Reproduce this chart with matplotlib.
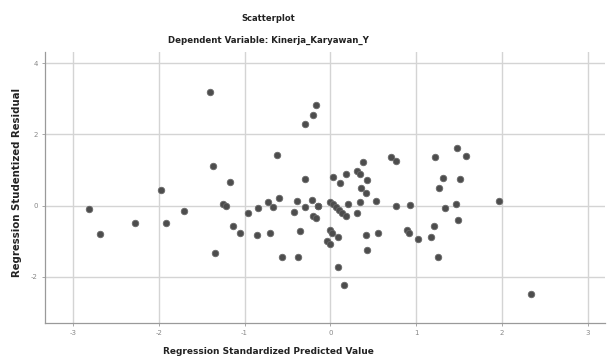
import matplotlib
matplotlib.use("Agg")
import matplotlib.pyplot as plt

# Regression standardized predicted value (x) and studentized residual (y)
pred = [-2.81, -2.69, -2.28, -1.97, -1.92, -1.71, -1.40, -1.37, -1.34, -1.17,
        -1.25, -1.22, -1.14, -1.05, -0.96, -0.86, -0.84, -0.73, -0.70, -0.67,
        -0.62, -0.60, -0.56, -0.42, -0.39, -0.38, -0.35, -0.30, -0.30, -0.30,
        -0.22, -0.20, -0.17, -0.20, -0.17, -0.15, -0.14, 0.03, 0.11, 0.18,
        0.00, 0.03, 0.07, 0.10, 0.14, 0.18, 0.21, 0.31, 0.35, 0.31,
        0.35, 0.38, 0.43, 0.36, 0.41, 0.53, -0.01, 0.02, 0.09, -0.04,
        -0.01, 0.09, 0.16, 0.42, 0.56, 0.43, 0.71, 0.76, 0.76, 0.93,
        0.89, 0.92, 1.02, 1.17, 1.21, 1.25, 1.22, 1.48, 1.58, 1.31,
        1.26, 1.51, 1.33, 1.46, 1.49, 1.96, 2.34]
resid = [-0.10, -0.80, -0.48, 0.44, -0.48, -0.14, 3.20, 1.10, -1.34, 0.66,
         0.04, -0.02, -0.58, -0.76, -0.20, -0.82, -0.06, 0.10, -0.78, -0.04,
         1.42, 0.22, -1.44, -0.18, 0.14, -1.44, -0.72, 2.30, 0.74, -0.04,
         0.16, 2.56, 2.84, -0.28, -0.36, 0.00, 0.00, 0.80, 0.64, 0.88,
         0.10, 0.04, -0.04, -0.12, -0.20, -0.30, 0.04, -0.20, 0.10, 0.98,
         0.90, 1.22, 0.72, 0.50, 0.36, 0.12, -0.68, -0.76, -0.88, -1.00,
         -1.08, -1.72, -2.24, -0.84, -0.76, -1.24, 1.36, 1.24, 0.00, 0.02,
         -0.70, -0.76, -0.94, -0.88, -0.58, -1.46, 1.36, 1.62, 1.40, 0.78,
         0.50, 0.74, -0.06, 0.04, -0.42, 0.14, -2.50]

x_ticks = [-3, -2, -1, 0, 1, 2, 3]
y_ticks = [-2, 0, 2, 4]

fig = plt.figure(figsize=(6.09, 3.58), dpi=100)
ax = fig.add_axes([0.0734, 0.098, 0.92, 0.757])

ax.scatter(pred, resid, s=22, color="#4d4d4d", edgecolors="#6a6a6a",
           linewidths=0.6, zorder=3)

ax.set_xlim(-3.33, 3.2)
ax.set_ylim(-3.30, 4.32)
ax.set_xticks(x_ticks)
ax.set_yticks(y_ticks)
ax.set_xticklabels([str(v) for v in x_ticks])
ax.set_yticklabels([str(v) for v in y_ticks])
ax.grid(True, color="#d4d4d4", linewidth=1.0, zorder=0)
ax.set_axisbelow(True)
for s in ["top", "right"]:
    ax.spines[s].set_visible(False)
for s in ["left", "bottom"]:
    ax.spines[s].set_color("#9a9a9a")
    ax.spines[s].set_linewidth(0.9)
ax.tick_params(axis="both", colors="#9a9a9a", labelcolor="#888888",
               labelsize=5, length=2, width=0.6, pad=3)

fig.text(0.44, 0.017, "Regression Standardized Predicted Value", ha="center",
         va="center", fontsize=6.5, fontweight="bold", color="#222222")
fig.text(0.028, 0.49, "Regression Studentized Residual", ha="center",
         va="center", rotation=90, fontsize=7.3, fontweight="bold",
         color="#222222")

fig.text(0.44, 0.948, "Scatterplot", ha="center", va="center",
         fontsize=6, fontweight="bold", color="#222222")
fig.text(0.44, 0.888, "Dependent Variable: Kinerja_Karyawan_Y", ha="center",
         va="center", fontsize=6.2, fontweight="bold", color="#222222")

fig.savefig("out.png", dpi=100)
